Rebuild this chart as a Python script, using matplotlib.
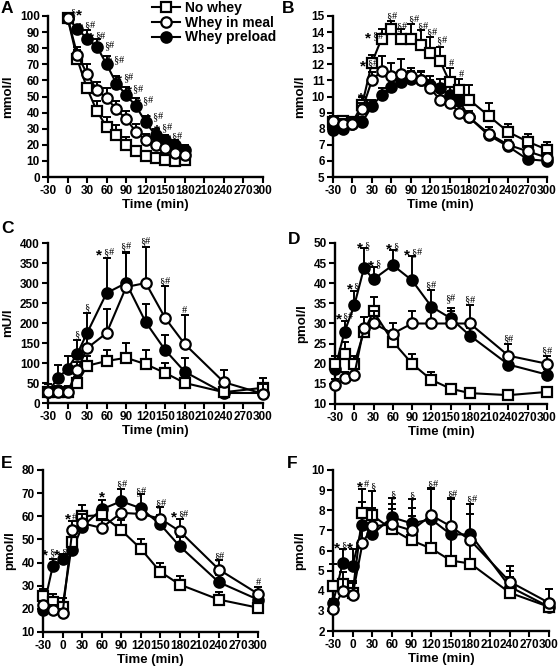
import matplotlib.pyplot as plt
import numpy as np

plt.rcParams['font.family'] = ['Liberation Sans', 'DejaVu Sans']
plt.rcParams['font.weight'] = 'bold'
plt.rcParams['axes.unicode_minus'] = False

# ---- data ----
tA = [0, 15, 30, 45, 60, 75, 90, 105, 120, 135, 150, 165, 180]
A_no = [99, 73, 55, 41, 31, 26, 20, 16, 13, 11.5, 10.5, 10, 10.5]
A_no_e = [0, 6, 0, 6, 6, 6, 5, 3, 2, 1.5, 1.5, 1.5, 1.5]
A_meal = [99, 76, 64, 54, 49, 42, 36, 28, 23, 20, 18, 15, 13.5]
A_meal_e = [0, 5, 6, 5, 6, 5, 5, 5, 4, 4, 3, 3, 3]
A_pre = [99, 92, 86, 81, 70, 58, 51, 44, 34, 26, 23, 20, 17]
A_pre_e = [0, 2, 5, 5, 5, 5, 5, 5, 4, 4, 3, 3, 3]

tB = [-30, -15, 0, 15, 30, 45, 60, 75, 90, 105, 120, 135, 150, 165, 180, 210, 240, 270, 300]
B_no = [8.4, 8.5, 8.4, 9.5, 12.1, 13.6, 14.2, 13.6, 13.6, 13.2, 12.7, 12.2, 10.9, 10.4, 9.8, 8.8, 7.8, 7.2, 6.7]
B_no_e = [0.3, 0.3, 0.3, 0.5, 0.5, 0.6, 0.5, 0.6, 0.9, 0.9, 1.0, 0.9, 0.9, 0.7, 0.9, 0.8, 0.5, 0.5, 0.5]
B_meal = [8.5, 8.3, 8.3, 9.2, 11.0, 11.6, 11.3, 11.4, 11.3, 11.0, 10.5, 9.8, 9.6, 9.0, 8.7, 7.7, 7.0, 6.6, 6.2]
B_meal_e = [0.3, 0.3, 0.3, 0.4, 0.5, 0.9, 0.8, 0.9, 0.5, 0.5, 0.5, 0.5, 0.5, 0.5, 0.4, 0.4, 0.3, 0.3, 0.3]
B_pre = [7.9, 8.0, 8.3, 8.4, 9.4, 10.1, 10.6, 10.9, 11.1, 11.0, 10.7, 10.5, 10.1, 9.7, 8.7, 7.6, 6.9, 6.1, 6.0]
B_pre_e = [0.2, 0.2, 0.2, 0.3, 0.4, 0.4, 0.4, 0.4, 0.5, 0.6, 0.6, 0.6, 0.5, 0.5, 0.3, 0.3, 0.3, 0.2, 0.2]

tC = [-30, -15, 0, 15, 30, 60, 90, 120, 150, 180, 240, 300]
C_no = [27, 27, 27, 50, 93, 105, 113, 97, 75, 50, 27, 38]
C_no_e = [20, 15, 15, 15, 25, 28, 37, 35, 25, 10, 10, 25]
C_meal = [27, 27, 27, 82, 137, 175, 290, 300, 212, 147, 52, 23]
C_meal_e = [5, 5, 10, 20, 25, 60, 85, 90, 80, 72, 30, 25]
C_pre = [27, 62, 85, 123, 175, 275, 300, 202, 132, 78, 25, 25]
C_pre_e = [5, 33, 33, 35, 50, 88, 77, 45, 38, 35, 10, 10]

D_no = [20, 22.5, 20, 28, 33, 25.5, 20, 16, 13.8, 12.7, 12.2, 13]
D_no_e = [2, 3, 2, 3.5, 3.5, 2, 2.5, 2, 1, 0.5, 0.5, 0.5]
D_meal = [14.8, 16.5, 17.2, 29, 30, 27.5, 30, 30, 30, 30, 22, 20]
D_meal_e = [1.5, 1.5, 1.5, 2.5, 3, 2.5, 3, 3, 3, 4.5, 3, 2]
D_pre = [18.8, 28, 34.5, 43.7, 41, 44.5, 40.7, 34.2, 31.3, 27, 19.8, 17.3]
D_pre_e = [2, 2.5, 3.5, 5, 3, 3.7, 6, 4, 2.5, 2, 2, 1.5]

E_no = [25.5, 23, 21, 49, 60, 60.5, 54, 46, 36, 30.5, 24, 20.5]
E_no_e = [3, 3.5, 3.5, 4, 5, 3, 4.5, 4, 4, 3.5, 3.5, 1.5]
E_meal = [21.5, 19.5, 18, 54, 57, 55, 61.5, 61, 59, 53.5, 37, 26.5]
E_meal_e = [2, 2, 2, 4, 4, 4, 4, 4, 5, 5.5, 4, 3]
E_pre = [19.5, 38.5, 41.5, 45.5, 55.5, 63, 66.5, 63.5, 56.5, 47, 31.5, 24]
E_pre_e = [2, 3, 2, 3, 4, 4, 5.5, 6, 4, 4, 3, 2]

F_no = [4.25, 4.35, 3.9, 7.85, 7.75, 7.05, 6.5, 6.1, 5.5, 5.35, 3.9, 3.2]
F_no_e = [1.1, 0.6, 0.6, 1.2, 1.2, 1.0, 1.2, 1.3, 1.3, 1.2, 0.8, 0.9]
F_meal = [3.1, 4.0, 3.8, 6.35, 7.2, 7.3, 7.0, 7.75, 7.2, 6.5, 4.45, 3.4]
F_meal_e = [0.5, 0.6, 0.6, 1.0, 0.8, 1.0, 1.1, 1.35, 1.4, 1.3, 0.8, 0.7]
F_pre = [3.4, 5.4, 5.25, 7.25, 6.8, 7.65, 7.35, 7.55, 6.8, 6.8, 4.2, 3.2]
F_pre_e = [0.6, 0.65, 0.8, 1.15, 1.3, 0.95, 1.2, 1.5, 1.75, 1.5, 0.8, 0.9]

# significance marks: (time, y, text) -- text starts at given time
A_sig = [(4, 100.5, '§*'), (15, 92.5, '*§#'), (31, 86, '*§#'), (45, 80, '*§#'), (59, 71, '*§#'),
         (74, 60, '*§#'), (89, 53, '*§#'), (104, 46, '*§#'), (119, 36, '*§#'), (133, 29, '*§#'), (149, 23.5, '*§#')]
B_sig = [(8, 9.9, '*'), (12, 11.9, '*§#'), (20, 13.6, '*§#'), (52, 14.8, '§#'), (67, 14.2, '§#'),
         (86, 14.6, '§#'), (100, 14.2, '§#'), (114, 13.8, '§#'), (129, 13.3, '§#'), (148, 11.9, '#'), (164, 11.2, '#')]
C_sig = [(10, 165, '§'), (26, 232, '§'), (44, 370, '*§#'), (81, 385, '§#'), (111, 398, '§#'),
         (141, 298, '§#'), (175, 225, '#')]
D_sig = [(-29, 31, '*§#'), (-12, 38.5, '*§'), (4, 48.8, '*§'), (21, 44.3, '*§'), (50, 48.5, '*§'), (78, 47, '*§#'),
         (111, 38.8, '§#'), (141, 35.5, '§#'), (171, 35.2, '§#'), (231, 25.5, '§#'), (291, 22.5, '§#')]
E_sig = [(-32, 43, '*§'), (-13, 43, '*§'), (3, 58.5, '*#'), (56, 68, '*'), (82, 72.5, '§#'), (112, 69.5, '§#'),
         (142, 64.5, '§#'), (166, 59.5, '*§#'), (232, 41.5, '§#'), (296, 30.5, '#')]
F_sig = [(-28, 6.1, '*§'), (-9, 6.1, '*§'), (6, 9.15, '*#'), (27, 9.05, '§'), (57, 8.65, '§'), (87, 8.6, '§'),
         (114, 9.15, '§#'), (144, 8.65, '§#'), (174, 8.4, '§#')]

W = 560
H = 669
fig = plt.figure(figsize=(W / 100, H / 100), dpi=100)


def add_ax(left, right, top, bottom):
    return fig.add_axes([left / W, 1 - bottom / H, (right - left) / W, (bottom - top) / H])


def sig_text(ax, x, y, txt):
    # '*' drawn larger in bold sans, '§' and '#' small serif
    off = 0.0
    for ch in txt:
        if ch == '*':
            ax.annotate('*', (x, y), xytext=(off, -3), textcoords='offset points',
                        fontsize=11, fontweight='bold', ha='left', va='baseline',
                        annotation_clip=False, zorder=10)
            off += 5.0
        else:
            ax.annotate(ch, (x, y), xytext=(off, 0), textcoords='offset points',
                        fontsize=7.5, family=['Liberation Serif'], fontweight='normal',
                        ha='left', va='baseline', annotation_clip=False, zorder=10)
            off += 3.9


def panel(ax, t, series, ylim, ystep, ylabel, sig, letter, lx, ly):
    styles = [  # preload, no whey, meal
        dict(marker='o', mfc='black', label='Whey preload', z=3),
        dict(marker='s', mfc='white', label='No whey', z=4),
        dict(marker='o', mfc='white', label='Whey in meal', z=5),
    ]
    handles = {}
    for (y, e), st in zip(series, styles):
        y = np.array(y, dtype=float)
        e = np.array(e, dtype=float)
        ax.errorbar(t, y, yerr=[np.zeros_like(e), e], fmt='none', ecolor='black',
                    elinewidth=1.4, capsize=3, capthick=1.4, zorder=st['z'], clip_on=False)
        h, = ax.plot(t, y, color='black', lw=1.5, marker=st['marker'], ms=7.5,
                     mfc=st['mfc'], mec='black', mew=1.6, zorder=st['z'] + 0.5,
                     clip_on=False, label=st['label'])
        handles[st['label']] = h
    ax.set_xlim(-30, 300)
    ax.set_xticks(np.arange(-30, 301, 30))
    ax.set_ylim(*ylim)
    ax.set_yticks(np.arange(ylim[0], ylim[1] + ystep / 2, ystep))
    for s in ['top', 'right']:
        ax.spines[s].set_visible(False)
    for s in ['left', 'bottom']:
        ax.spines[s].set_linewidth(1.7)
    ax.tick_params(width=1.5, length=4, labelsize=8.5, pad=2)
    for lab in ax.get_xticklabels() + ax.get_yticklabels():
        lab.set_fontweight('bold')
    ax.set_xlabel('Time (min)', fontsize=9.5, fontweight='bold', labelpad=1)
    ax.set_ylabel(ylabel, fontsize=9.5, fontweight='bold', labelpad=4)
    for x, yy, txt in sig:
        sig_text(ax, x, yy, txt)
    fig.text(lx / W, 1 - ly / H, letter, fontsize=12.5, fontweight='bold', va='top', ha='left')
    return handles


axA = add_ax(48, 263, 16, 177)
hA = panel(axA, tA, [(A_pre, A_pre_e), (A_no, A_no_e), (A_meal, A_meal_e)],
           (0, 100), 10, 'mmol/l', A_sig, 'A', 1, 1)
axA.legend([hA['No whey'], hA['Whey in meal'], hA['Whey preload']],
           ['No whey', 'Whey in meal', 'Whey preload'],
           loc='upper left', bbox_to_anchor=(152 / W, 1 - 1 / H), bbox_transform=fig.transFigure,
           frameon=False, handlelength=2.0, handletextpad=0.4,
           labelspacing=0.05, borderpad=0, borderaxespad=0,
           prop={'weight': 'bold', 'size': 10})

axB = add_ax(333, 547, 16, 177)
panel(axB, tB, [(B_pre, B_pre_e), (B_no, B_no_e), (B_meal, B_meal_e)],
      (5, 15), 1, 'mmol/l', B_sig, 'B', 282, 1)

axC = add_ax(48, 263, 243, 403)
panel(axC, tC, [(C_pre, C_pre_e), (C_no, C_no_e), (C_meal, C_meal_e)],
      (0, 400), 50, 'mU/l', C_sig, 'C', 1, 221)

axD = add_ax(335, 547, 243, 404)
panel(axD, tC, [(D_pre, D_pre_e), (D_no, D_no_e), (D_meal, D_meal_e)],
      (10, 50), 5, 'pmol/l', D_sig, 'D', 288, 232)

axE = add_ax(43, 258, 470, 632)
panel(axE, tC, [(E_pre, E_pre_e), (E_no, E_no_e), (E_meal, E_meal_e)],
      (10, 80), 10, 'pmol/l', E_sig, 'E', 1, 456)

axF = add_ax(333, 549, 470, 631)
panel(axF, tC, [(F_pre, F_pre_e), (F_no, F_no_e), (F_meal, F_meal_e)],
      (2, 10), 1, 'pmol/l', F_sig, 'F', 287, 456)

fig.savefig('out.png', dpi=100)
